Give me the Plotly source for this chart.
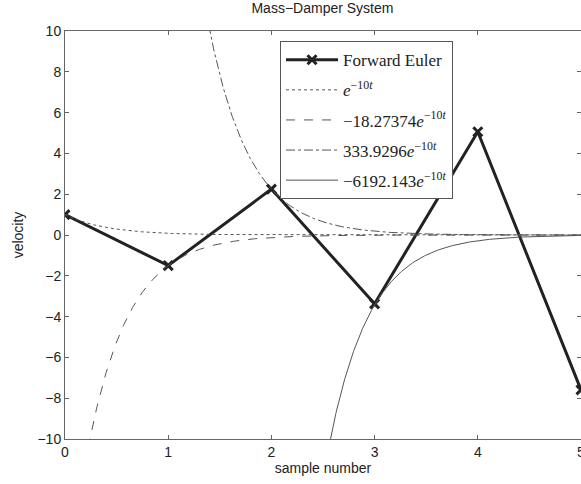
import numpy as np
import plotly.graph_objects as go

# Data
samples = [0, 1, 2, 3, 4, 5]
euler_velocity = [1.0, -1.5, 2.25, -3.375, 5.0625, -7.59375]
coefficients = [1.0, -18.27374, 333.9296, -6192.143]
labels = [
    "<i>e</i><sup>−10<i>t</i></sup>",
    "−18.27374<i>e</i><sup>−10<i>t</i></sup>",
    "333.9296<i>e</i><sup>−10<i>t</i></sup>",
    "−6192.143<i>e</i><sup>−10<i>t</i></sup>",
]
dashes = ["dot", "dash", "dashdot", "solid"]
decay_rate = 10.0
step = 0.25  # time step per sample

n = np.linspace(0, 5, 1001)
t = n * step

fig = go.Figure()
fig.add_trace(go.Scatter(
    x=samples, y=euler_velocity, mode="lines+markers", name="Forward Euler",
    line=dict(color="#222222", width=3),
    marker=dict(symbol="x-thin", size=9, line=dict(color="#222222", width=3), color="#222222"),
    legendgroup="g0",
))
for i, (c, lab, d) in enumerate(zip(coefficients, labels, dashes)):
    fig.add_trace(go.Scatter(
        x=n, y=c * np.exp(-decay_rate * t), mode="lines", name=lab,
        line=dict(color="#555555", width=1, dash=d),
        legendgroup=f"g{i+1}",
    ))

sans = "Liberation Sans, Arial"
axis_common = dict(
    showline=True, linecolor="#666666", linewidth=1, mirror="ticks",
    ticks="inside", ticklen=4, tickcolor="#666666",
    showgrid=False, zeroline=False,
    tickfont=dict(family=sans, size=14, color="#222222"),
    title_font=dict(family=sans, size=14, color="#222222"),
)
fig.update_xaxes(range=[0, 5], tickmode="array", tickvals=samples,
                 title_text="sample number", title_standoff=4, **axis_common)
fig.update_yaxes(range=[-10, 10], tickmode="array", tickvals=list(range(-10, 11, 2)),
                 title_text="velocity", title_standoff=10, **axis_common)

# last x tick label sits on the figure edge (partly cut off, as in the reference)
fig.add_annotation(x=samples[-1], y=0, xref="x", yref="paper", yanchor="top",
                   yshift=-3, text=str(samples[-1]), showarrow=False,
                   font=dict(family=sans, size=14, color="#222222"))

fig.update_layout(
    width=581, height=484,
    margin=dict(l=65, r=0, t=31, b=45),
    paper_bgcolor="white", plot_bgcolor="white",
    title=dict(text="Mass−Damper System", x=0.555, xanchor="center", y=0.993, yanchor="top",
               font=dict(family=sans, size=14, color="#222222")),
    showlegend=True,
    legend=dict(
        x=0.4167, y=0.975, xanchor="left", yanchor="top",
        bgcolor="white", bordercolor="#555555", borderwidth=1,
        font=dict(family="Liberation Serif, Times New Roman", size=17, color="#222222"),
        traceorder="grouped", tracegroupgap=5, itemwidth=52,
    ),
)

fig.write_html("out.html")
